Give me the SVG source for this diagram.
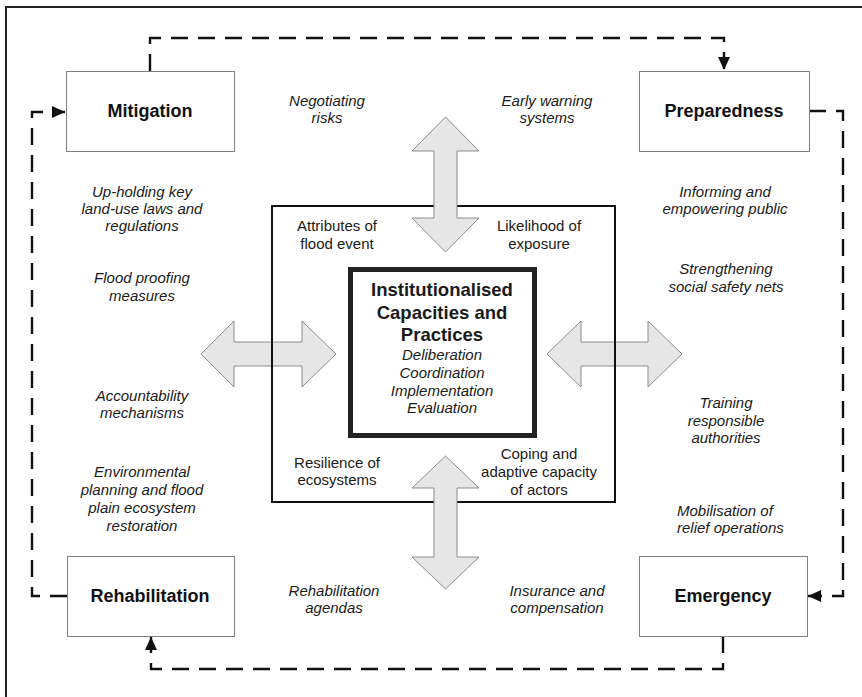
<svg xmlns="http://www.w3.org/2000/svg" width="862" height="697" viewBox="0 0 862 697">
<style>
.stage rect{fill:#fff;stroke:#808080;stroke-width:1}
.stage text{font-family:"Liberation Sans",Arial,sans-serif;font-weight:bold;font-size:18px;fill:#111;text-anchor:middle}
.it{font-family:"Liberation Sans",Arial,sans-serif;font-style:italic;font-size:15px;fill:#1a1a1a;text-anchor:middle}
.it.st{text-anchor:start}
.rg{font-family:"Liberation Sans",Arial,sans-serif;font-size:15px;fill:#1a1a1a;text-anchor:middle}
.ttl{font-family:"Liberation Sans",Arial,sans-serif;font-weight:bold;font-size:18.5px;fill:#1a1a1a;text-anchor:middle}
.dash{fill:none;stroke:#111;stroke-width:2.4;stroke-dasharray:17 10;marker-end:url(#ah)}
.blk{fill:#e6e6e6;stroke:#8c8c8c;stroke-width:1}
</style>
<defs>
<marker id="ah" markerUnits="userSpaceOnUse" markerWidth="14" markerHeight="14" viewBox="0 0 14 14" refX="13" refY="7" orient="auto">
<path d="M0,1 L13,7 L0,13 Z" fill="#111"/>
</marker>
</defs>
<rect width="862" height="697" fill="#fff"/>
<path d="M6,700 V7 H870" fill="none" stroke="#222" stroke-width="2"/>

<g id="connectors">
<path class="dash" d="M150,71 V38 H724 V70"/>
<path class="dash" d="M809,111 H843 V596 H808"/>
<path class="dash" d="M723,636 V669 H151 V637"/>
<path class="dash" d="M67,596 H32 V112 H65"/>
</g>

<g id="arrow-left"><polygon class="blk" points="201,354 234,321 234,342 302,342 302,321 336,354 302,387 302,366 234,366 234,387"/></g>
<g id="arrow-right"><polygon class="blk" points="547,354 581,321 581,342 648,342 648,321 682,354 648,387 648,366 581,366 581,387"/></g>

<g id="context-box">
<rect x="272" y="206" width="343" height="296" fill="none" stroke="#111" stroke-width="2"/>
<text class="rg" x="337" y="231">Attributes of</text>
<text class="rg" x="337" y="249">flood event</text>
<text class="rg" x="539" y="231">Likelihood of</text>
<text class="rg" x="539" y="249">exposure</text>
<text class="rg" x="337" y="468">Resilience of</text>
<text class="rg" x="337" y="485">ecosystems</text>
<text class="rg" x="539" y="459">Coping and</text>
<text class="rg" x="539" y="477">adaptive capacity</text>
<text class="rg" x="539" y="495">of actors</text>
</g>

<g id="arrow-top"><polygon class="blk" points="445.5,117 479,151 457,151 457,218 479,218 445.5,252 412,218 434,218 434,151 412,151"/></g>
<g id="arrow-bottom"><polygon class="blk" points="445.5,456 479,488 457,488 457,557 479,557 445.5,589 412,557 434,557 434,488 412,488"/></g>

<g id="center">
<rect x="350.5" y="269.5" width="184" height="166" fill="#fff" stroke="#222" stroke-width="5"/>
<text class="ttl" x="442" y="296">Institutionalised</text>
<text class="ttl" x="442" y="319">Capacities and</text>
<text class="ttl" x="442" y="341">Practices</text>
<text class="it" x="442" y="360">Deliberation</text>
<text class="it" x="442" y="378">Coordination</text>
<text class="it" x="442" y="396">Implementation</text>
<text class="it" x="442" y="413">Evaluation</text>
</g>

<g id="mitigation" class="stage"><rect x="66.5" y="71.5" width="168" height="80"/><text x="150" y="117">Mitigation</text></g>
<g id="preparedness" class="stage"><rect x="639.5" y="71.5" width="170" height="80"/><text x="724" y="117">Preparedness</text></g>
<g id="rehabilitation" class="stage"><rect x="67.5" y="556.5" width="167" height="80"/><text x="150" y="602">Rehabilitation</text></g>
<g id="emergency" class="stage"><rect x="639.5" y="556.5" width="168" height="80"/><text x="723" y="602">Emergency</text></g>

<g id="labels">
<text class="it" x="327" y="106">Negotiating</text>
<text class="it" x="327" y="123">risks</text>
<text class="it" x="547" y="106">Early warning</text>
<text class="it" x="547" y="123">systems</text>
<text class="it" x="142" y="197">Up-holding key</text>
<text class="it" x="142" y="214">land-use laws and</text>
<text class="it" x="142" y="231">regulations</text>
<text class="it" x="725" y="197">Informing and</text>
<text class="it" x="725" y="214">empowering public</text>
<text class="it" x="142" y="283">Flood proofing</text>
<text class="it" x="142" y="301">measures</text>
<text class="it" x="726" y="274">Strengthening</text>
<text class="it" x="726" y="292">social safety nets</text>
<text class="it" x="142" y="401">Accountability</text>
<text class="it" x="142" y="418">mechanisms</text>
<text class="it" x="726" y="408">Training</text>
<text class="it" x="726" y="426">responsible</text>
<text class="it" x="726" y="443">authorities</text>
<text class="it" x="142" y="477">Environmental</text>
<text class="it" x="142" y="495">planning and flood</text>
<text class="it" x="142" y="513">plain ecosystem</text>
<text class="it" x="142" y="531">restoration</text>
<text class="it st" x="677" y="516">Mobilisation of</text>
<text class="it st" x="677" y="533">relief operations</text>
<text class="it" x="334" y="596">Rehabilitation</text>
<text class="it" x="334" y="613">agendas</text>
<text class="it" x="557" y="596">Insurance and</text>
<text class="it" x="557" y="613">compensation</text>
</g>
</svg>
